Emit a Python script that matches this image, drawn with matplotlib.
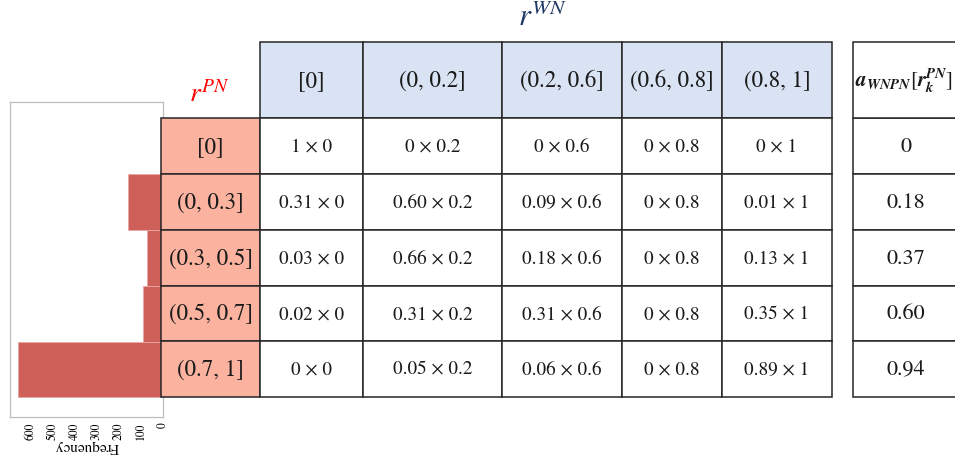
import matplotlib.pyplot as plt
import matplotlib.patches as patches
import numpy as np

plt.rcParams['font.family'] = 'STIXGeneral'
plt.rcParams['mathtext.fontset'] = 'stix'

# PN / WN bins, share of each PN bin falling into each WN bin
pn_bins = ['[0]', '(0, 0.3]', '(0.3, 0.5]', '(0.5, 0.7]', '(0.7, 1]']
wn_bins = ['[0]', '(0, 0.2]', '(0.2, 0.6]', '(0.6, 0.8]', '(0.8, 1]']
wn_weights = [0, 0.2, 0.6, 0.8, 1]
share = np.array([
    [1, 0, 0, 0, 0],
    [0.31, 0.60, 0.09, 0, 0.01],
    [0.03, 0.66, 0.18, 0, 0.13],
    [0.02, 0.31, 0.31, 0, 0.35],
    [0, 0.05, 0.06, 0, 0.89],
])
pn_counts = [0, 160, 73, 91, 660]

# weighted result per PN bin
a_wnpn = share @ np.array(wn_weights)


def fmt_share(v):
    if v == 0 or v == 1:
        return f'{int(v)}'
    return f'{v:.2f}'


def fmt_a(v):
    return '0' if round(v, 2) == 0 else f'{v:.2f}'


fig = plt.figure(figsize=(9.55, 4.6), dpi=100)
W, H = 955, 460

# histogram of PN counts, drawn sideways next to the rows
hx0, hx1, hy0, hy1 = 10, 163, 103, 418
hist = fig.add_axes([hx0 / W, 1 - hy1 / H, (hx1 - hx0) / W, (hy1 - hy0) / H])
hist.barh(range(len(pn_counts)), pn_counts, height=1.0, color='#cf5f59',
          edgecolor='#e8a9a4', linewidth=0.6)
hist.set_xlim(695, 0)
hist.set_ylim(4.85, -0.79)
hist.set_yticks([])
hist.set_xticks(range(0, 700, 100))
hist.set_xticklabels([str(t) for t in range(0, 700, 100)], rotation=90, fontsize=8.5)
hist.tick_params(axis='x', length=0, pad=3)
hist.set_xlabel('Frequency', rotation=180, fontsize=11, labelpad=0)
for s in hist.spines.values():
    s.set_color('#bdbdbd')
    s.set_linewidth(0.9)

# table drawn in pixel coordinates
tab = fig.add_axes([0, 0, 1, 1])
tab.set_xlim(0, W)
tab.set_ylim(H, 0)
tab.axis('off')

col_x = [260, 363, 502, 622, 722, 832]
row_y = [43, 119, 175, 231, 287, 342, 398]
pn_x = (161, 260)
a_x = (853, 975)
line = '#262626'


def cell(x0, x1, y0, y1, fc):
    tab.add_patch(patches.Rectangle((x0, y0), x1 - x0, y1 - y0, facecolor=fc,
                                    edgecolor=line, linewidth=1.1, clip_on=False))


# WN header
for j, lab in enumerate(wn_bins):
    x0, x1 = col_x[j], col_x[j + 1]
    cell(x0, x1, row_y[0], row_y[1], '#dae3f3')
    tab.text((x0 + x1) / 2, (row_y[0] + row_y[1]) / 2, lab, ha='center', va='center',
             fontsize=16.5, color='#1a1a1a')

# PN labels and body cells
for i, lab in enumerate(pn_bins):
    y0, y1 = row_y[i + 1], row_y[i + 2]
    cy = (y0 + y1) / 2
    cell(pn_x[0], pn_x[1], y0, y1, '#fbb3a0')
    tab.text(sum(pn_x) / 2, cy, lab, ha='center', va='center', fontsize=16.5,
             color='#1a1a1a')
    for j in range(len(wn_bins)):
        x0, x1 = col_x[j], col_x[j + 1]
        cell(x0, x1, y0, y1, 'white')
        txt = f'{fmt_share(share[i, j])} \u00d7 {wn_weights[j]:g}'
        tab.text((x0 + x1) / 2, cy, txt, ha='center', va='center', fontsize=13.8,
                 color='#1a1a1a')
    cell(a_x[0], a_x[1], y0, y1, 'white')
    tab.text(906, cy, fmt_a(a_wnpn[i]), ha='center', va='center', fontsize=16,
             color='#1a1a1a')

cell(a_x[0], a_x[1], row_y[0], row_y[1], 'white')
tab.text(855, (row_y[0] + row_y[1]) / 2,
         r'$\mathbfit{a}_{\mathbfit{WNPN}}[\mathbfit{r}_{\mathbfit{k}}^{\mathbfit{PN}}]$',
         ha='left', va='center', fontsize=15, color='#1a1a1a')

# axis titles
tab.text(543, 18, r'$r^{WN}$', ha='center', va='center', fontsize=22, color='#1f3864')
tab.text(209, 94, r'$r^{PN}$', ha='center', va='center', fontsize=20, color='#ff0000')

fig.savefig('out.png', dpi=100)
